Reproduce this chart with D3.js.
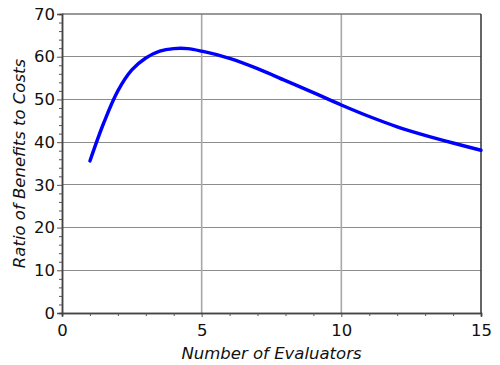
<!DOCTYPE html>
<html><head><meta charset="utf-8">
<script src="https://cdn.jsdelivr.net/npm/d3@7"></script>
<style>body{margin:0;background:#fff}svg{display:block}</style>
</head><body>
<script>
const evaluators = [1, 1.5, 2, 2.5, 3, 3.5, 4, 4.5, 5, 6, 7, 8, 9, 10, 11, 12, 13, 14, 15];
const ratio = [35.6, 44.6, 52.0, 56.9, 59.7, 61.3, 61.9, 61.9, 61.3, 59.6, 57.2, 54.4, 51.6, 48.7, 46.0, 43.6, 41.6, 39.8, 38.1];
const xTicks = [0, 5, 10, 15];
const yTicks = [0, 10, 20, 30, 40, 50, 60, 70];
const xTitle = "Number of Evaluators";
const yTitle = "Ratio of Benefits to Costs";

const W = 500, H = 365;
const m = {l: 62, r: 19, t: 14, b: 52};
const svg = d3.select("body").append("svg").attr("width", W).attr("height", H);
const x = d3.scaleLinear().domain([0, 15]).range([m.l, W - m.r]);
const y = d3.scaleLinear().domain([0, 70]).range([H - m.b, m.t]);
const font = "DejaVu Sans, Verdana, sans-serif";

// gridlines
svg.append("g").selectAll("line").data(yTicks.slice(1, -1)).join("line")
  .attr("x1", x(0)).attr("x2", x(15)).attr("y1", d => y(d)).attr("y2", d => y(d))
  .attr("stroke", "#8c8c8c").attr("stroke-width", 1).attr("shape-rendering", "crispEdges");
svg.append("g").selectAll("line").data(xTicks.slice(1, -1)).join("line")
  .attr("x1", d => x(d)).attr("x2", d => x(d)).attr("y1", y(0)).attr("y2", y(70))
  .attr("stroke", "#a8a8a8").attr("stroke-width", 1.6);

// frame top/right
svg.append("line").attr("x1", x(0)).attr("x2", x(15)).attr("y1", y(70)).attr("y2", y(70))
  .attr("stroke", "#777").attr("stroke-width", 1.5);
svg.append("line").attr("x1", x(15)).attr("x2", x(15)).attr("y1", y(70)).attr("y2", y(0))
  .attr("stroke", "#333").attr("stroke-width", 1.5);

// axes
const xAxis = svg.append("g").attr("transform", `translate(0,${y(0)})`)
  .call(d3.axisBottom(x).tickValues(xTicks).tickSize(4).tickPadding(7));
const xMinor = svg.append("g").attr("transform", `translate(0,${y(0)})`)
  .call(d3.axisBottom(x).tickValues(d3.range(0, 16, 1).filter(v => !xTicks.includes(v))).tickSize(3).tickFormat(""));
const yAxis = svg.append("g").attr("transform", `translate(${x(0)},0)`)
  .call(d3.axisLeft(y).tickValues(yTicks).tickSize(5).tickPadding(2));
const yMinor = svg.append("g").attr("transform", `translate(${x(0)},0)`)
  .call(d3.axisLeft(y).tickValues(d3.range(0, 71, 2).filter(v => !yTicks.includes(v))).tickSize(3).tickFormat(""));
[xAxis, xMinor, yAxis, yMinor].forEach(g => {
  g.select(".domain").attr("stroke", "#444").attr("stroke-width", 1.5);
  g.selectAll(".tick line").attr("stroke", "#555");
  g.selectAll("text").attr("font-family", font).attr("font-size", 16.5).attr("fill", "#111");
});

// curve
svg.append("path").datum(evaluators.map((v, i) => [v, ratio[i]]))
  .attr("fill", "none").attr("stroke", "#0000ff").attr("stroke-width", 3.4)
  .attr("stroke-linecap", "round")
  .attr("d", d3.line().x(d => x(d[0])).y(d => y(d[1])).curve(d3.curveCatmullRom.alpha(0.5)));

// titles
svg.append("text").attr("x", (x(0) + x(15)) / 2).attr("y", 359)
  .attr("text-anchor", "middle").attr("font-family", font).attr("font-size", 16.5)
  .attr("font-style", "italic").attr("fill", "#111").text(xTitle);
svg.append("text").attr("transform", `translate(25,${(y(0) + y(70)) / 2}) rotate(-90)`)
  .attr("text-anchor", "middle").attr("font-family", font).attr("font-size", 16.5)
  .attr("font-style", "italic").attr("fill", "#111").text(yTitle);
</script>
</body></html>
